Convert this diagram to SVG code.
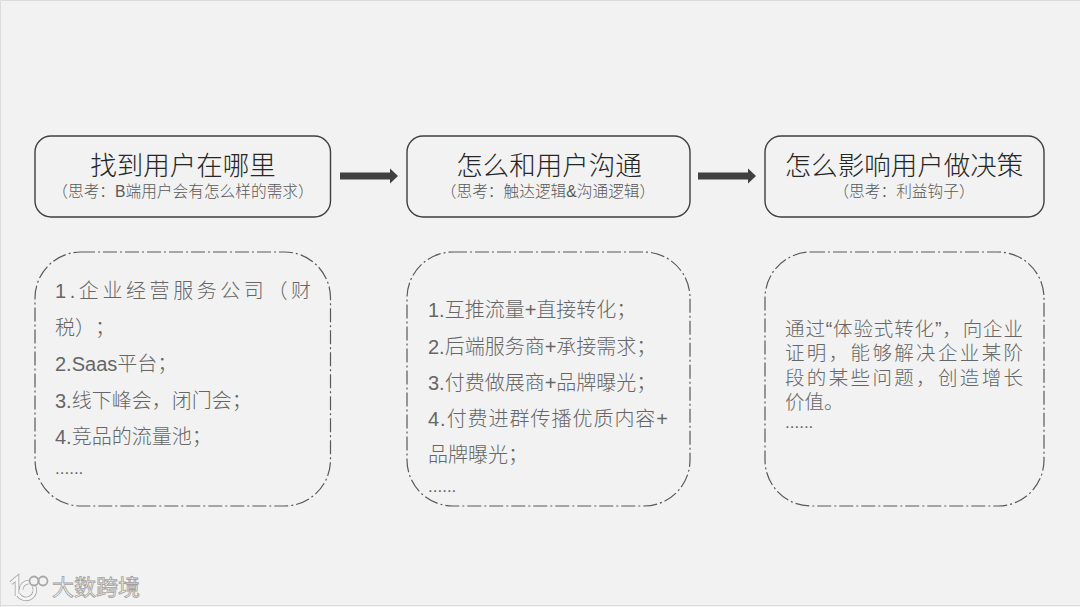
<svg xmlns="http://www.w3.org/2000/svg" width="1080" height="607" viewBox="0 0 1080 607">
<style>
text{font-family:"Liberation Sans","Noto Sans CJK SC",sans-serif;font-weight:300;text-spacing-trim:space-all}
.h{fill:none;stroke:#3f3f3f;stroke-width:1.4}
.d{fill:none;stroke:#595959;stroke-width:1.2;stroke-dasharray:14 3 2 3}
.t{font-size:26.500px;fill:#262626;text-anchor:middle}
.s{font-size:15.700px;fill:#595959;text-anchor:middle}
.b{font-size:20px;fill:#666}
.c{font-size:19.500px;fill:#666}
.e{font-size:17px;fill:#666}
.a{fill:none;stroke:#404040;stroke-width:7}
</style>
<rect width="1080" height="607" fill="#f2f2f2"/>
<path d="M0.500 607V0.500H1080" fill="none" stroke="#dcdcdc"/><path d="M0 605.500H1080" stroke="#dcdcdc"/>
<g id="connectors">
<path class="a" d="M340 176H391"/><path d="M390 168.500L398 176L390 183.500Z" fill="#404040"/>
<path class="a" d="M698 176H749"/><path d="M748 168.500L756 176L748 183.500Z" fill="#404040"/>
</g>
<g id="node-1"><rect class="h" x="35" y="136" width="295.500" height="81" rx="16"/>
<text class="t" x="183" y="175">找到用户在哪里</text>
<text class="s" x="183" y="197">（思考：B端用户会有怎么样的需求）</text></g>
<g id="node-2"><rect class="h" x="407" y="136" width="283" height="81" rx="16"/>
<text class="t" x="549" y="175">怎么和用户沟通</text>
<text class="s" x="548" y="197">（思考：触达逻辑&amp;沟通逻辑）</text></g>
<g id="node-3"><rect class="h" x="765" y="136" width="279" height="81" rx="16"/>
<text class="t" x="904" y="175">怎么影响用户做决策</text>
<text class="s" x="904" y="197">（思考：利益钩子）</text></g>
<g id="detail-1"><rect class="d" x="35" y="252" width="295.500" height="254" rx="46"/>
<text class="b" x="55" y="298" textLength="256">1.企业经营服务公司（财</text>
<text class="b" x="55" y="335">税）；</text>
<text class="b" x="55" y="371">2.Saas平台；</text>
<text class="b" x="55" y="408">3.线下峰会，闭门会；</text>
<text class="b" x="55" y="444">4.竞品的流量池；</text>
<text class="e" x="55" y="474">......</text></g>
<g id="detail-2"><rect class="d" x="407" y="252" width="283" height="254" rx="46"/>
<text class="b" x="428" y="317">1.互推流量+直接转化；</text>
<text class="b" x="428" y="354">2.后端服务商+承接需求；</text>
<text class="b" x="428" y="390">3.付费做展商+品牌曝光；</text>
<text class="b" x="428" y="426" textLength="240">4.付费进群传播优质内容+</text>
<text class="b" x="428" y="462">品牌曝光；</text>
<text class="e" x="428" y="492">......</text></g>
<g id="detail-3"><rect class="d" x="765" y="252" width="279" height="254" rx="46"/>
<text class="c" x="785" y="336" textLength="238">通过“体验式转化”，向企业</text>
<text class="c" x="785" y="360" textLength="238">证明，能够解决企业某阶</text>
<text class="c" x="785" y="385" textLength="238">段的某些问题，创造增长</text>
<text class="c" x="785" y="409">价值。</text>
<text class="e" x="785" y="428">......</text></g>
<g id="watermark">
<path d="M11 583L17 578V596M34 586A8.500 8.500 0 0 1 18 594M29 582A8 8 0 0 0 21 590" fill="none" stroke="#a8a8a8" stroke-width="4.500"/>
<path d="M11 583L17 578V596M34 586A8.500 8.500 0 0 1 18 594M29 582A8 8 0 0 0 21 590" fill="none" stroke="#f6f6f6" stroke-width="2.800"/>
<circle cx="34" cy="581" r="4.500" fill="none" stroke="#a8a8a8" stroke-width="1.800"/>
<circle cx="43" cy="581" r="4.500" fill="none" stroke="#a8a8a8" stroke-width="1.800"/>
<text x="52" y="595" font-size="22" style="fill:#f8f8f8;stroke:#a0a0a0;stroke-width:.8;font-weight:400">大数跨境</text>
</g>
</svg>
